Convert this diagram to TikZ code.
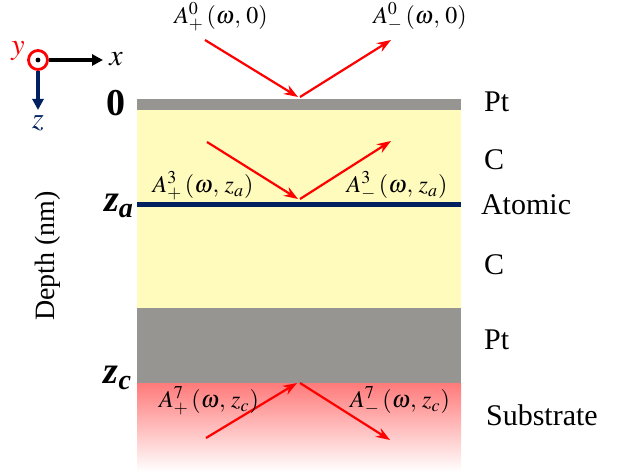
\documentclass[tikz,border=0pt]{standalone}
\usepackage{mathptmx}
\usepackage{fontspec}
\setmainfont{Liberation Serif}
\usetikzlibrary{arrows.meta}
\definecolor{ptgray}{RGB}{150,149,145}
\definecolor{cyellow}{RGB}{255,251,189}
\definecolor{navy}{RGB}{0,32,96}
\tikzset{
  wave/.style={red,line width=1.1pt,-{Stealth[length=7pt,width=5pt]}},
  axis/.style={line width=1.6pt,-{Triangle[length=5.5pt,width=5.5pt]}},
  layer/.style={font=\fontsize{15}{17}\selectfont,anchor=west},
  amp/.style={font=\fontsize{12}{14}\selectfont},
  depth/.style={font=\fontsize{19}{21}\selectfont\bfseries},
  axlabel/.style={font=\fontsize{15}{17}\selectfont}
}
\newcommand{\bz}[1]{\textit{z}\textsubscript{\textit{#1}}}
\begin{document}
\begin{tikzpicture}[x=0.5pt,y=-0.5pt]
\useasboundingbox (0,0) rectangle (630,475);
% layers
\fill[cyellow] (137,110) rectangle (461,308);
\fill[ptgray] (137,99) rectangle (461,110);
\fill[ptgray] (137,308) rectangle (461,383);
\shade[top color=red!52,bottom color=white] (137,383) rectangle (461,472);
\draw[navy,line width=2.5pt] (137,204.5) -- (461,204.5);

% axes
\node[circle,draw=red,line width=1.4pt,fill=white,inner sep=0pt,minimum size=9.5pt] (O) at (38,60) {};
\fill (O) circle (1.2pt);
\coordinate (X) at (103,60);
\coordinate (Z) at (38,110);
\draw[axis] (O) -- (X);
\draw[axis,navy] (O) -- (Z);
\node[axlabel] (xl) at (116,59) {$x$};
\node[axlabel,text=navy] (zl) at (38,123) {$z$};
\node[axlabel,text=red] (yl) at (18,51) {$y$};

% depth labels
\node[depth] (D0) at (116,103) {0};
\node[depth] (Da) at (119,206) {\bz{a}};
\node[depth] (Dc) at (118,378) {\bz{c}};
\node[rotate=90,font=\fontsize{14}{16}\selectfont] (Dp) at (48,256) {Depth (nm)};

% layer names
\node[layer] (L1) at (477,102) {Pt};
\node[layer] (L2) at (477,160) {C};
\node[layer] (L3) at (474,205) {Atomic};
\node[layer] (L4) at (477,265) {C};
\node[layer] (L5) at (477,340) {Pt};
\node[layer] (L6) at (479,415) {Substrate};

% waves
\coordinate (T1) at (205,40);   \coordinate (T0) at (298,97);
\coordinate (T2) at (300,97);   \coordinate (T3) at (391,40);
\coordinate (M1) at (207,142);  \coordinate (M0) at (298,199);
\coordinate (M2) at (300,199);  \coordinate (M3) at (391,141);
\coordinate (B1) at (206,438);  \coordinate (B0) at (297,383);
\coordinate (B2) at (300,383);  \coordinate (B3) at (390,440);
\path[wave] (T1) edge (T0) (T2) edge (T3);
\path[wave] (M1) edge (M0) (M2) edge (M3);
\path[wave] (B1) edge (B0) (B2) edge (B3);

\node[amp] (A0p) at (221,17) {$A_+^0\,(\omega,\,0)$};
\node[amp] (A0m) at (420,17) {$A_-^0\,(\omega,\,0)$};
\node[amp] (A3p) at (203,186) {$A_+^3\,(\omega,\,z_a)$};
\node[amp] (A3m) at (397,186) {$A_-^3\,(\omega,\,z_a)$};
\node[amp] (A7p) at (209,401) {$A_+^7\,(\omega,\,z_c)$};
\node[amp] (A7m) at (400,401) {$A_-^7\,(\omega,\,z_c)$};
\end{tikzpicture}
\end{document}
